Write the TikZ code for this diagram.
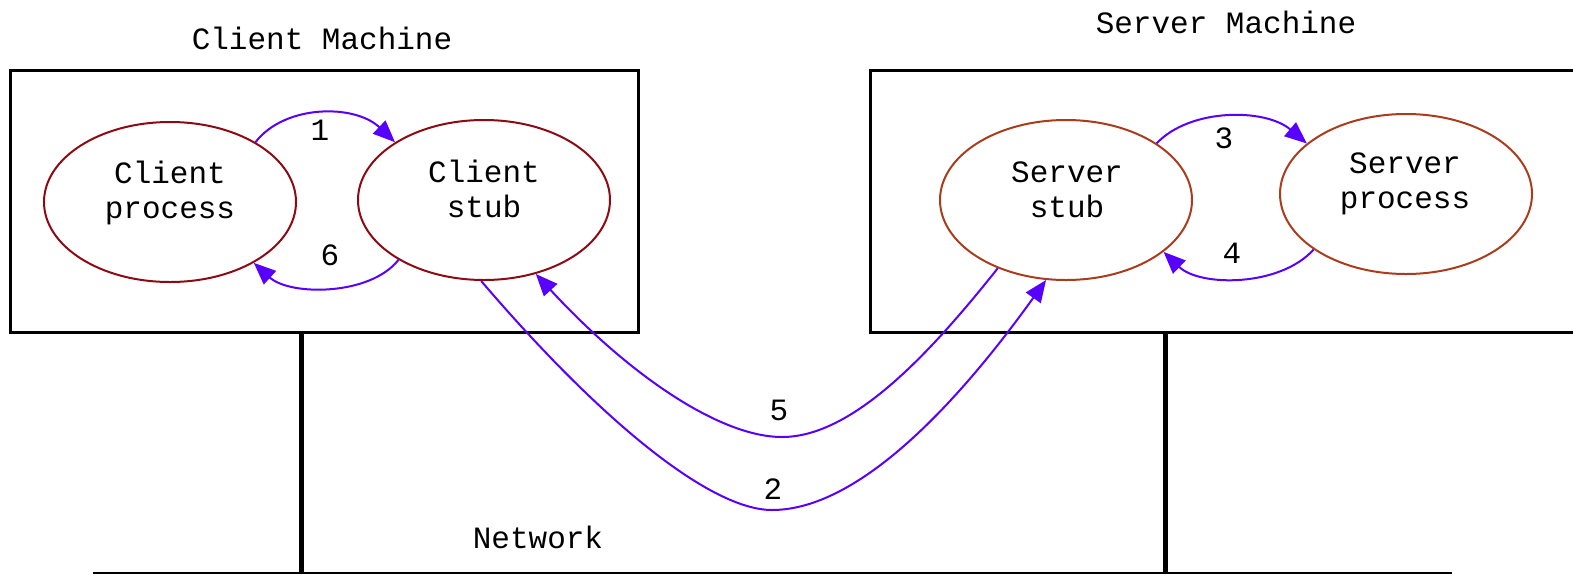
\documentclass[tikz,border=0pt]{standalone}
\usepackage{fontspec}
\setmainfont{Liberation Mono}
\usetikzlibrary{arrows.meta,shapes.geometric}
\definecolor{arrowblue}{RGB}{88,0,255}
\definecolor{cred}{RGB}{140,10,20}
\definecolor{sred}{RGB}{170,60,30}
\begin{document}
\begin{tikzpicture}[x=1pt,y=-1pt,
  lbl/.style={font=\fontsize{31}{35}\selectfont, inner sep=0pt, align=center},
  proc/.style={ellipse, draw, line width=2pt, minimum width=252pt, minimum height=160pt, inner sep=0pt},
  box/.style={draw, line width=3pt},
  flow/.style={draw=arrowblue, line width=2pt, -{Triangle[length=22pt,width=18pt]}}]
\useasboundingbox (0,0) rectangle (1573,576);

% machines
\draw[box] (10,70) rectangle (638,332);
\draw[box] (870,70) rectangle (1585,332);
\node[lbl] (ctitle) at (322,38) {Client Machine};
\node[lbl] (stitle) at (1226,22) {Server Machine};

% network
\draw[line width=5pt] (301,332) -- (301,574);
\draw[line width=5pt] (1165,332) -- (1165,574);
\draw[line width=2pt] (93,573) -- (1452,573);
\node[lbl] (net) at (538,537) {Network};

% processes
\node[proc, draw=cred] (cp) at (170,202) {};
\node[proc, draw=cred] (cs) at (484,200) {};
\node[proc, draw=sred] (ss) at (1066,200) {};
\node[proc, draw=sred] (sp) at (1406,194) {};
\node[lbl] (cpt) at (170,193) {Client\\process};
\node[lbl] (cst) at (484,189) {Client\\stub};
\node[lbl] (sst) at (1067,190) {Server\\stub};
\node[lbl] (spt) at (1405,184) {Server\\process};

% local calls
\draw[flow] (cp.35) .. controls (285,104) and (355,104) .. (cs.147);
\draw[flow] (cs.215) .. controls (370,296) and (290,296) .. (cp.-36);
\draw[flow] (ss.32) .. controls (1190,108) and (1265,108) .. (sp.153);
\draw[flow] (sp.211) .. controls (1280,287) and (1200,287) .. (ss.-28);
\node[lbl] (l1) at (320,130) {1};
\node[lbl] (l6) at (330,255) {6};
\node[lbl] (l3) at (1224,138) {3};
\node[lbl] (l4) at (1232,253) {4};

% network messages
\coordinate (b2) at (772,510);
\coordinate (b5) at (782,437);
\draw[flow] (cs.-92) .. controls (600,420) and (710,510) .. (b2)
  .. controls (860,510) and (960,400) .. (ss.-104);
\draw[flow] (ss.225) .. controls (925,360) and (850,437) .. (b5)
  .. controls (720,437) and (629,375) .. (cs.-55);
\node[lbl] (l5) at (779,410) {5};
\node[lbl] (l2) at (773,489) {2};
\end{tikzpicture}
\end{document}
